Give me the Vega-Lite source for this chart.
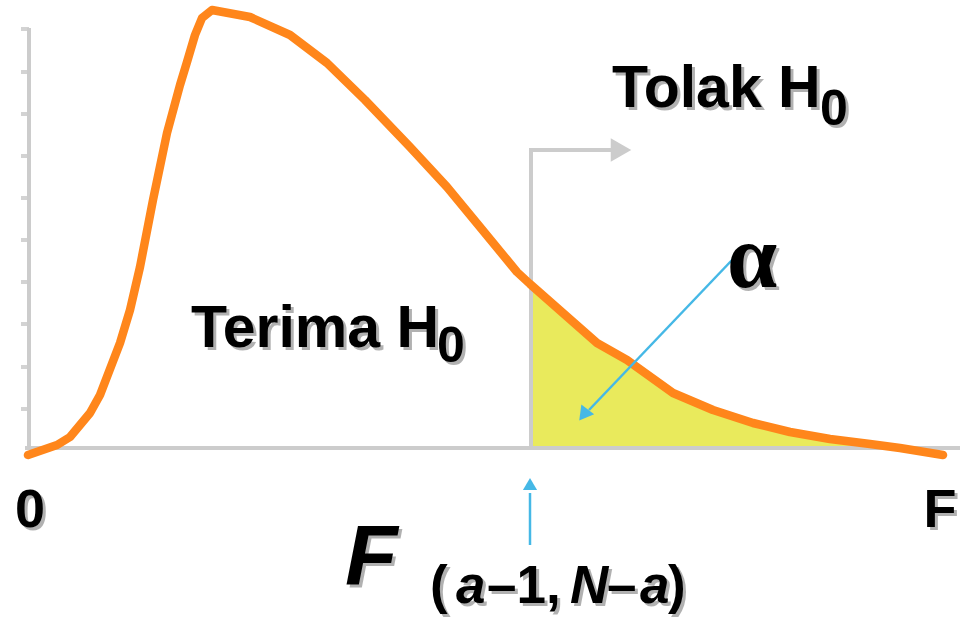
{
  "$schema": "https://vega.github.io/schema/vega-lite/v6.json",
  "width": 967,
  "height": 620,
  "autosize": {"type": "fit", "contains": "padding"},
  "padding": 0,
  "background": "white",
  "config": {"view": {"stroke": null}},
  "datasets": {
    "curve": [
      {"x": -0.2, "y": -0.5}, {"x": 2.7, "y": 0.5}, {"x": 4.0, "y": 1.3}, {"x": 6.0, "y": 3.7},
      {"x": 7.0, "y": 5.5}, {"x": 9.0, "y": 10.7}, {"x": 10.0, "y": 14.0}, {"x": 11.0, "y": 18.3},
      {"x": 12.3, "y": 25.0}, {"x": 13.7, "y": 31.7}, {"x": 15.0, "y": 36.5}, {"x": 15.7, "y": 38.8},
      {"x": 16.5, "y": 41.5}, {"x": 17.2, "y": 43.2}, {"x": 18.2, "y": 44.0}, {"x": 22.0, "y": 43.3},
      {"x": 26.0, "y": 41.5}, {"x": 29.7, "y": 38.7}, {"x": 33.5, "y": 35.0}, {"x": 38.0, "y": 30.3},
      {"x": 41.7, "y": 26.3}, {"x": 45.0, "y": 22.3}, {"x": 48.7, "y": 17.8}, {"x": 50.0, "y": 16.6},
      {"x": 56.7, "y": 10.7}, {"x": 59.7, "y": 9.0}, {"x": 64.3, "y": 5.7}, {"x": 68.3, "y": 4.0},
      {"x": 72.3, "y": 2.7}, {"x": 76.0, "y": 1.8}, {"x": 80.0, "y": 1.1}, {"x": 84.0, "y": 0.6},
      {"x": 87.0, "y": 0.2}, {"x": 91.3, "y": -0.5}
    ],
    "ticks": [
      {"x": -0.9, "x2": -0.1, "y": 42.1}, {"x": -0.9, "x2": -0.1, "y": 37.8},
      {"x": -0.9, "x2": -0.1, "y": 33.6}, {"x": -0.9, "x2": -0.1, "y": 29.4},
      {"x": -0.9, "x2": -0.1, "y": 25.2}, {"x": -0.9, "x2": -0.1, "y": 21.0},
      {"x": -0.9, "x2": -0.1, "y": 16.8}, {"x": -0.9, "x2": -0.1, "y": 12.6},
      {"x": -0.9, "x2": -0.1, "y": 8.3}, {"x": -0.9, "x2": -0.1, "y": 4.1}
    ],
    "threshold": [
      {"x": 50.1, "y": 0.2, "x2": 50.1, "y2": 30.0},
      {"x": 50.1, "y": 30.0, "x2": 58.2, "y2": 30.0}
    ],
    "axes": [
      {"x": -0.1, "y": 0.2, "x2": -0.1, "y2": 42.2},
      {"x": -0.5, "y": 0.2, "x2": 93.0, "y2": 0.2}
    ],
    "bluelines": [
      {"x": 70.3, "y": 19.1, "x2": 55.9, "y2": 4.0},
      {"x": 50.0, "y": -9.5, "x2": 50.0, "y2": -4.3}
    ]
  },
  "encoding": {
    "x": {"field": "x", "type": "quantitative", "scale": {"domain": [-3, 93.7], "nice": false, "zero": false}, "axis": null},
    "y": {"field": "y", "type": "quantitative", "scale": {"domain": [-17, 45], "nice": false, "zero": false}, "axis": null}
  },
  "layer": [
    {
      "data": {"name": "curve"},
      "transform": [{"filter": "datum.x >= 50 && datum.x <= 87"}],
      "mark": {"type": "area", "color": "#e9ea5c", "opacity": 1},
      "encoding": {"y2": {"datum": 0.3}}
    },
    {
      "data": {"name": "ticks"},
      "mark": {"type": "rule", "color": "#d3d3d3", "strokeWidth": 4},
      "encoding": {"x2": {"field": "x2"}}
    },
    {
      "data": {"name": "threshold"},
      "mark": {"type": "rule", "color": "#cccccc", "strokeWidth": 4, "strokeCap": "square"},
      "encoding": {"x2": {"field": "x2"}, "y2": {"field": "y2"}}
    },
    {
      "data": {"values": [{"x": 59.1, "y": 30.0}]},
      "mark": {"type": "point", "shape": "triangle-right", "size": 560, "filled": true, "color": "#cccccc", "opacity": 1}
    },
    {
      "data": {"name": "axes"},
      "mark": {"type": "rule", "color": "#cccccc", "strokeWidth": 4},
      "encoding": {"x2": {"field": "x2"}, "y2": {"field": "y2"}}
    },
    {
      "data": {"name": "curve"},
      "mark": {"type": "line", "color": "#ff861b", "strokeWidth": 8.5, "strokeCap": "round", "strokeJoin": "round"}
    },
    {
      "data": {"name": "bluelines"},
      "mark": {"type": "rule", "color": "#45b8e6", "strokeWidth": 2.5},
      "encoding": {"x2": {"field": "x2"}, "y2": {"field": "y2"}}
    },
    {
      "data": {"values": [{"x": 55.35, "y": 3.5}]},
      "mark": {"type": "point", "shape": "triangle-up", "angle": 217.5, "size": 260, "filled": true, "color": "#45b8e6", "opacity": 1}
    },
    {
      "data": {"values": [{"x": 50.0, "y": -3.4}]},
      "mark": {"type": "point", "shape": "triangle-up", "size": 200, "filled": true, "color": "#45b8e6", "opacity": 1}
    },
    {
      "data": {"values": [{"x": 0.0, "y": -7.7, "t": "0"}, {"x": 91.0, "y": -7.7, "t": "F"}]},
      "encoding": {"text": {"field": "t"}},
      "layer": [
        {"mark": {"type": "text", "font": "Liberation Sans", "fontWeight": "bold", "fontSize": 54, "align": "center", "baseline": "alphabetic", "color": "#000", "opacity": 0.3, "dx": 3, "dy": 3}},
        {"mark": {"type": "text", "font": "Liberation Sans", "fontWeight": "bold", "fontSize": 54, "align": "center", "baseline": "alphabetic", "color": "#000"}}
      ]
    },
    {
      "data": {"values": [{"x": 16.1, "y": 10.3, "t": "Terima H"}, {"x": 58.2, "y": 34.3, "t": "Tolak H"}]},
      "encoding": {"text": {"field": "t"}},
      "layer": [
        {"mark": {"type": "text", "font": "Liberation Sans", "fontWeight": "bold", "fontSize": 59, "align": "left", "baseline": "alphabetic", "color": "#000", "opacity": 0.3, "dx": 3, "dy": 3}},
        {"mark": {"type": "text", "font": "Liberation Sans", "fontWeight": "bold", "fontSize": 59, "align": "left", "baseline": "alphabetic", "color": "#000"}}
      ]
    },
    {
      "data": {"values": [{"x": 40.7, "y": 8.8, "t": "0"}, {"x": 79.0, "y": 32.5, "t": "0"}]},
      "encoding": {"text": {"field": "t"}},
      "layer": [
        {"mark": {"type": "text", "font": "Liberation Sans", "fontWeight": "bold", "fontSize": 50, "align": "left", "baseline": "alphabetic", "color": "#000", "opacity": 0.3, "dx": 3, "dy": 3}},
        {"mark": {"type": "text", "font": "Liberation Sans", "fontWeight": "bold", "fontSize": 50, "align": "left", "baseline": "alphabetic", "color": "#000"}}
      ]
    },
    {
      "data": {"values": [{"x": 72.2, "y": 16.3, "t": "α"}]},
      "encoding": {"text": {"field": "t"}},
      "layer": [
        {"mark": {"type": "text", "font": "Liberation Serif", "fontWeight": "bold", "fontSize": 90, "align": "center", "baseline": "alphabetic", "color": "#000", "opacity": 0.3, "dx": 3, "dy": 3}},
        {"mark": {"type": "text", "font": "Liberation Serif", "fontWeight": "bold", "fontSize": 90, "align": "center", "baseline": "alphabetic", "color": "#000"}}
      ]
    },
    {
      "data": {"values": [{"x": 31.5, "y": -13.5, "t": "F"}]},
      "encoding": {"text": {"field": "t"}},
      "layer": [
        {"mark": {"type": "text", "font": "Liberation Sans", "fontWeight": "bold", "fontStyle": "italic", "fontSize": 86, "align": "left", "baseline": "alphabetic", "color": "#000", "opacity": 0.3, "dx": 3, "dy": 3}},
        {"mark": {"type": "text", "font": "Liberation Sans", "fontWeight": "bold", "fontStyle": "italic", "fontSize": 86, "align": "left", "baseline": "alphabetic", "color": "#000"}}
      ]
    },
    {
      "data": {"values": [{"x": 40.0, "y": -15.3, "t": "("}, {"x": 45.7, "y": -15.3, "t": "–1,"}, {"x": 57.7, "y": -15.3, "t": "–"}, {"x": 63.8, "y": -15.3, "t": ")"}]},
      "encoding": {"text": {"field": "t"}},
      "layer": [
        {"mark": {"type": "text", "font": "Liberation Sans", "fontWeight": "bold", "fontSize": 53, "align": "left", "baseline": "alphabetic", "color": "#000", "opacity": 0.3, "dx": 3, "dy": 3}},
        {"mark": {"type": "text", "font": "Liberation Sans", "fontWeight": "bold", "fontSize": 53, "align": "left", "baseline": "alphabetic", "color": "#000"}}
      ]
    },
    {
      "data": {"values": [{"x": 42.6, "y": -15.3, "t": "a"}, {"x": 54.0, "y": -15.3, "t": "N"}, {"x": 61.0, "y": -15.3, "t": "a"}]},
      "encoding": {"text": {"field": "t"}},
      "layer": [
        {"mark": {"type": "text", "font": "Liberation Sans", "fontWeight": "bold", "fontStyle": "italic", "fontSize": 53, "align": "left", "baseline": "alphabetic", "color": "#000", "opacity": 0.3, "dx": 3, "dy": 3}},
        {"mark": {"type": "text", "font": "Liberation Sans", "fontWeight": "bold", "fontStyle": "italic", "fontSize": 53, "align": "left", "baseline": "alphabetic", "color": "#000"}}
      ]
    }
  ]
}
